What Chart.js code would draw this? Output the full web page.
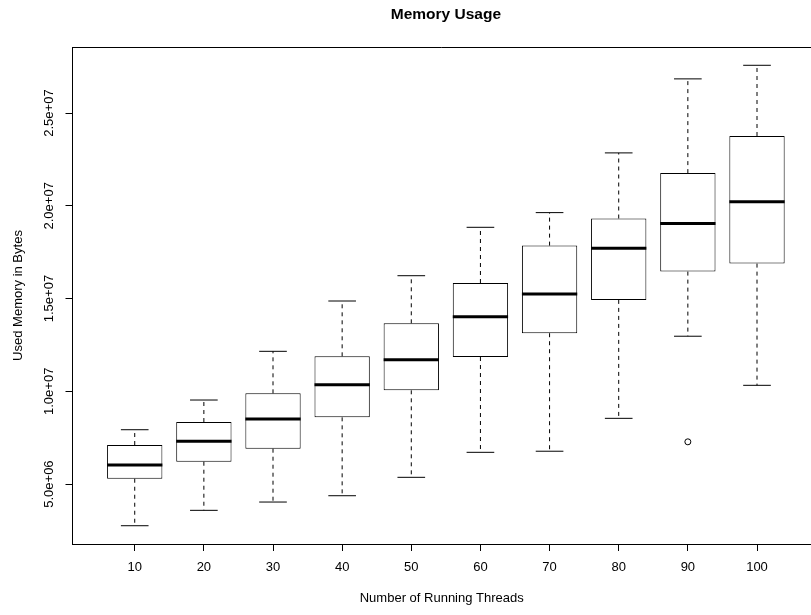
<!DOCTYPE html>
<html>
<head>
<meta charset="utf-8">
<title>Memory Usage</title>
<script src="https://cdn.jsdelivr.net/npm/chart.js@4.4.1/dist/chart.umd.min.js"></script>
<style>
  html, body { margin: 0; padding: 0; background: #fff; }
  canvas { display: block; }
</style>
</head>
<body>
<canvas id="chart" width="811" height="615"></canvas>
<script>
// Boxplot stats (bytes)
const threads     = [10, 20, 30, 40, 50, 60, 70, 80, 90, 100];
const whiskerLow  = [2.755e6, 3.585e6, 4.032e6, 4.372e6, 5.364e6, 6.712e6, 6.771e6, 8.544e6, 1.297e7, 1.0323e7];
const q1          = [5.288e6, 6.205e6, 6.906e6, 8.598e6, 1.0054e7, 1.1849e7, 1.3132e7, 1.4927e7, 1.6453e7, 1.6884e7];
const median      = [6.027e6, 7.305e6, 8.507e6, 1.0356e7, 1.1704e7, 1.4022e7, 1.5245e7, 1.7714e7, 1.904e7, 2.0221e7];
const q3          = [7.105e6, 8.345e6, 9.892e6, 1.1887e7, 1.3666e7, 1.5838e7, 1.7854e7, 1.9315e7, 2.1763e7, 2.3763e7];
const whiskerHigh = [7.93e6, 9.531e6, 1.2156e7, 1.4868e7, 1.6232e7, 1.8841e7, 1.9633e7, 2.2852e7, 2.6841e7, 2.7574e7];

const outlierThreads = [90];
const outlierValues  = [7.278e6];

const yTickValues = [5e6, 1e7, 1.5e7, 2e7, 2.5e7];
const yTickLabels = ['5.0e+06', '1.0e+07', '1.5e+07', '2.0e+07', '2.5e+07'];

const FONT = '"Liberation Sans", Arial, Helvetica, sans-serif';
// like R: box i sits at x = i
const pos = threads.map((t, i) => i + 1);

// whiskers, staples, medians, top frame line and main title
const boxExtras = {
  id: 'boxExtras',
  afterDatasetsDraw(chart) {
    const { ctx, scales: { y } } = chart;
    const bars = chart.getDatasetMeta(0).data;
    ctx.save();
    ctx.strokeStyle = '#000';
    bars.forEach((bar, i) => {
      const cx = bar.x;
      const half = bar.width / 2;

      ctx.lineWidth = 1;
      ctx.setLineDash([4, 4]);
      ctx.beginPath();
      ctx.moveTo(cx, y.getPixelForValue(q3[i]));
      ctx.lineTo(cx, y.getPixelForValue(whiskerHigh[i]));
      ctx.moveTo(cx, y.getPixelForValue(q1[i]));
      ctx.lineTo(cx, y.getPixelForValue(whiskerLow[i]));
      ctx.stroke();

      ctx.setLineDash([]);
      ctx.beginPath();
      [whiskerHigh[i], whiskerLow[i]].forEach(v => {
        const py = y.getPixelForValue(v);
        ctx.moveTo(cx - half / 2, py);
        ctx.lineTo(cx + half / 2, py);
      });
      ctx.stroke();

      ctx.lineWidth = 3;
      ctx.beginPath();
      const pm = y.getPixelForValue(median[i]);
      ctx.moveTo(cx - half, pm);
      ctx.lineTo(cx + half, pm);
      ctx.stroke();
    });
    ctx.restore();
  },
  afterDraw(chart) {
    const { ctx, chartArea, scales: { x } } = chart;
    ctx.save();
    ctx.strokeStyle = '#000';
    ctx.lineWidth = 1;
    ctx.beginPath();
    ctx.moveTo(chartArea.left, Math.round(chartArea.top) + 0.5);
    ctx.lineTo(chartArea.right, Math.round(chartArea.top) + 0.5);
    ctx.stroke();

    // R centres the title over the whole plot region
    ctx.fillStyle = '#000';
    ctx.font = 'bold 15.5px ' + FONT;
    ctx.textAlign = 'center';
    ctx.textBaseline = 'alphabetic';
    ctx.fillText('Memory Usage', x.getPixelForValue((pos[0] + pos[pos.length - 1]) / 2), 18.8);
    ctx.restore();
  }
};

const tickFont = { family: FONT, size: 13 };

new Chart(document.getElementById('chart'), {
  type: 'bar',
  data: {
    datasets: [
      {
        data: threads.map((t, i) => ({ x: pos[i], y: [q1[i], q3[i]] })),
        backgroundColor: '#fff',
        borderColor: '#000',
        borderWidth: 1,
        borderSkipped: false,
        categoryPercentage: 1,
        barPercentage: 0.8
      },
      {
        type: 'scatter',
        data: outlierThreads.map((t, k) => ({ x: pos[threads.indexOf(t)], y: outlierValues[k] })),
        pointStyle: 'circle',
        pointRadius: 3,
        pointBorderWidth: 1,
        pointBorderColor: '#000',
        pointBackgroundColor: '#fff'
      }
    ]
  },
  options: {
    responsive: false,
    animation: false,
    events: [],
    // no auto padding: the plot region runs off the right edge, as in the reference
    layout: { autoPadding: false, padding: { top: 47, right: 0, bottom: 0, left: 0 } },
    plugins: { legend: { display: false }, tooltip: { enabled: false }, title: { display: false } },
    scales: {
      x: {
        type: 'linear',
        min: 0.1,
        max: 10.781,
        offset: false,
        afterBuildTicks: s => { s.ticks = pos.map(v => ({ value: v })); },
        afterFit: s => { s.height = 71; s.paddingLeft = 0; s.paddingRight = 0; },
        ticks: {
          callback: v => threads[Math.round(v) - 1],
          autoSkip: false, maxRotation: 0, minRotation: 0,
          padding: 8.5, color: '#000', font: tickFont
        },
        grid: { display: true, drawOnChartArea: false, drawTicks: true, tickLength: 7, color: '#000', offset: false },
        border: { display: true, color: '#000', width: 1 },
        title: {
          display: true, text: 'Number of Running Threads',
          color: '#000', font: tickFont, padding: { top: 0, bottom: 8.9 }
        }
      },
      y: {
        type: 'linear',
        min: 1.77e6,
        max: 2.856e7,
        afterBuildTicks: s => { s.ticks = yTickValues.map(v => ({ value: v })); },
        afterFit: s => { s.width = 72.5; },
        ticks: {
          callback: v => yTickLabels[yTickValues.indexOf(v)],
          autoSkip: false, minRotation: 90, maxRotation: 90,
          crossAlign: 'center', padding: -7.25, color: '#000', font: tickFont
        },
        grid: { display: true, drawOnChartArea: false, drawTicks: true, tickLength: 7, color: '#000' },
        border: { display: true, color: '#000', width: 1 },
        title: {
          display: true, text: 'Used Memory in Bytes',
          color: '#000', font: tickFont, padding: { top: 10.3, bottom: 0 }
        }
      }
    }
  },
  plugins: [boxExtras]
});
</script>
</body>
</html>
